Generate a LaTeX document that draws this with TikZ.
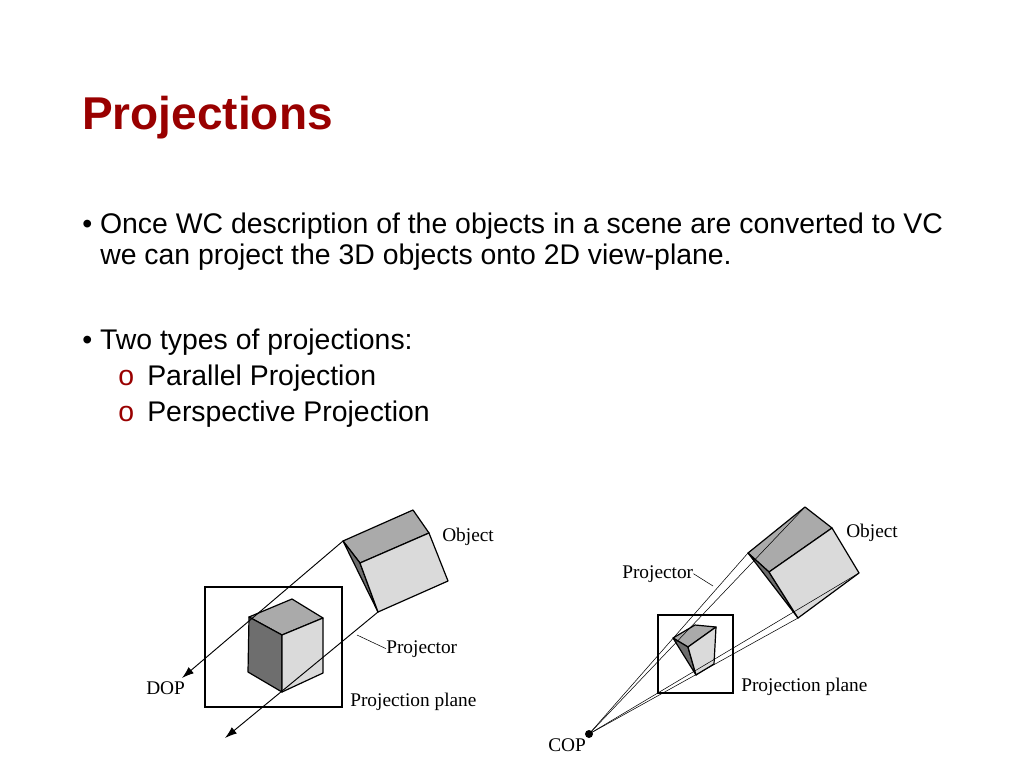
\documentclass[tikz,border=0pt]{standalone}
\usepackage{fontspec}
\setmainfont{Liberation Serif}
\newfontfamily\arialf{Liberation Sans}
\usetikzlibrary{arrows.meta}
\definecolor{titlered}{RGB}{153,0,0}
\definecolor{gtop}{RGB}{170,170,170}
\definecolor{gdark}{RGB}{110,110,110}
\definecolor{glight}{RGB}{218,218,218}
\begin{document}
\begin{tikzpicture}[x=0.75pt,y=-0.75pt,
  txt/.style={anchor=base west,inner sep=0pt,font=\arialf\fontsize{21.3}{25}\selectfont},
  lab/.style={anchor=base west,inner sep=0pt,font=\fontsize{14.5}{16}\selectfont},
  face/.style={draw=black,line width=0.9pt,line join=round},
  proj/.style={draw=black,line width=0.7pt,-{Latex[length=9pt,width=6pt]}},
  thin/.style={draw=black,line width=0.4pt}]
\fill[white] (0,0) rectangle (1024,768);
\useasboundingbox (0,0) rectangle (1024,768);
\node[anchor=base west,inner sep=0pt,text=titlered,font=\arialf\bfseries\fontsize{34.5}{40}\selectfont] (title) at (82,129) {Projections};
\node[txt] (b1) at (82,233) {\textbullet\ Once WC description of the objects in a scene are converted to VC};
\node[txt] (b1b) at (100,264) {we can project the 3D objects onto 2D view-plane.};
\node[txt] (b2) at (82,349) {\textbullet\ Two types of projections:};
\node[txt,text=titlered] (o1) at (118,385) {o};
\node[txt] (s1) at (147,385) {Parallel Projection};
\node[txt,text=titlered] (o2) at (118,421) {o};
\node[txt] (s2) at (147,421) {Perspective Projection};
% ---- left: parallel
\draw[line width=0.9pt] (205,587) rectangle (342,707);
\coordinate (LA) at (343,541); \coordinate (LB) at (413,510); \coordinate (LC) at (429,533);
\coordinate (LD) at (448,581); \coordinate (LE) at (378,612); \coordinate (LF) at (360,563);
\fill[gtop,face] (LA)--(LB)--(LC)--(LF)--cycle;
\fill[gdark,face] (LA)--(LF)--(LE)--cycle;
\fill[glight,face] (LF)--(LC)--(LD)--(LE)--cycle;
\coordinate (c1) at (249,617); \coordinate (c2) at (292,599); \coordinate (c3) at (323,618);
\coordinate (c4) at (282,635); \coordinate (c5) at (282,692); \coordinate (c6) at (248,672); \coordinate (c7) at (323,673);
\fill[gtop,face] (c1)--(c2)--(c3)--(c4)--cycle;
\fill[gdark,face] (c1)--(c4)--(c5)--(c6)--cycle;
\fill[glight,face] (c4)--(c3)--(c7)--(c5)--cycle;
\coordinate (dop1) at (182,678); \coordinate (dop2) at (225,738);
\draw[proj] (LA) -- (dop1);
\draw[proj] (LE) -- (dop2);
\node[lab] (lobj) at (442,541) {Object};
\node[lab] (lproj) at (386,653) {Projector};
\draw[thin] (357,635) -- (lproj.west);
\node[lab] (ldop) at (146,694) {DOP};
\node[lab] (lpp) at (350,706) {Projection plane};
% ---- right: perspective
\draw[line width=0.9pt] (658,615) rectangle (733,693);
\coordinate (RA) at (748,553); \coordinate (RB) at (805,507); \coordinate (RC) at (832,528);
\coordinate (RD) at (859,573); \coordinate (RE) at (798,618); \coordinate (RF) at (769,572);
\fill[gtop,face] (RA)--(RB)--(RC)--(RF)--cycle;
\fill[gdark,face] (RA)--(RF)--(RE)--cycle;
\fill[glight,face] (RF)--(RC)--(RD)--(RE)--cycle;
\coordinate (s1) at (673,638); \coordinate (s2) at (695,625); \coordinate (s3) at (716,627);
\coordinate (s4) at (688,647); \coordinate (s5) at (696,675); \coordinate (s6) at (714,664);
\fill[gtop,face] (s1)--(s2)--(s3)--(s4)--cycle;
\fill[gdark,face] (s1)--(s4)--(s5)--cycle;
\fill[glight,face] (s4)--(s3)--(s6)--(s5)--cycle;
\node[circle,fill=black,inner sep=0pt,minimum size=6pt] (cop) at (589,734) {};
\draw[thin] (cop.center) -- (RA);
\draw[thin] (cop.center) -- (RB);
\draw[thin] (cop.center) -- (RE);
\draw[thin] (cop.center) -- (RD);
\node[lab] (robj) at (846,537) {Object};
\node[lab] (rproj) at (622,578) {Projector};
\draw[thin] (rproj.east) -- (713,586);
\node[lab] (rpp) at (741,691) {Projection plane};
\node[lab] (rcop) at (548,751) {COP};
\end{tikzpicture}
\end{document}
